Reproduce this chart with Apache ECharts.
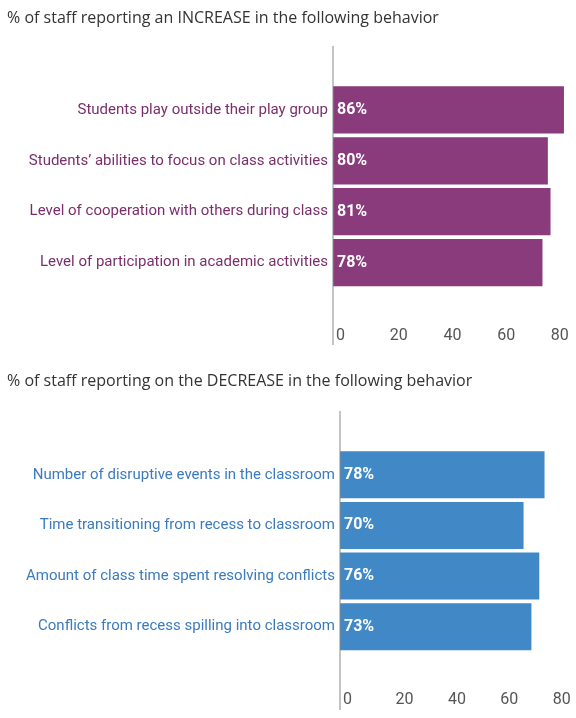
<!DOCTYPE html>
<html>
<head>
<meta charset="utf-8">
<script src="https://cdn.jsdelivr.net/npm/echarts@6/dist/echarts.min.js"></script>
<style>
  html, body { margin: 0; padding: 0; background: #fff; }
  #chart { width: 576px; height: 718px; }
</style>
</head>
<body>
<div id="chart"></div>
<script>
// data
var incTitle = '% of staff reporting an INCREASE in the following behavior';
var incCategories = [
    'Students play outside their play group',
    'Students\u2019 abilities to focus on class activities',
    'Level of cooperation with others during class',
    'Level of participation in academic activities'
];
var incValues = [86, 80, 81, 78];

var decTitle = '% of staff reporting on the DECREASE in the following behavior';
var decCategories = [
    'Number of disruptive events in the classroom',
    'Time transitioning from recess to classroom',
    'Amount of class time spent resolving conflicts',
    'Conflicts from recess spilling into classroom'
];
var decValues = [78, 70, 76, 73];

var purple = '#8a3b7c';
var purpleText = '#7a2e6c';
var blue = '#4189c6';
var blueText = '#3a7bbf';
var narrow = 'Roboto, sans-serif';

var chart = echarts.init(document.getElementById('chart'));

function valueAxis(idx) {
    return {
        type: 'value', gridIndex: idx, min: 0, max: 90, interval: 20,
        axisLine: {show: false}, axisTick: {show: false}, splitLine: {show: false},
        axisLabel: {
            margin: 40, align: 'left', padding: [0, 0, 0, 3],
            color: '#555', fontFamily: narrow, fontSize: 16,
            showMaxLabel: false,
            formatter: function (v) { return v % 20 === 0 ? v : ''; }
        }
    };
}

function catAxis(idx, cats, color) {
    return {
        type: 'category', gridIndex: idx, data: cats, inverse: true,
        axisLine: {show: false}, axisTick: {show: false},
        axisLabel: {margin: 5, color: color, fontFamily: narrow, fontSize: 15}
    };
}

function barSeries(idx, vals, color) {
    return {
        type: 'bar', xAxisIndex: idx, yAxisIndex: idx, data: vals,
        barCategoryGap: '7%',
        itemStyle: {color: color},
        label: {
            show: true, position: 'insideLeft', distance: 4,
            formatter: '{c}%', color: '#fff', fontWeight: 'bold',
            fontFamily: narrow, fontSize: 16
        },
        silent: true
    };
}

var option = {
    animation: false,
    title: [
        {text: incTitle, left: 2, top: 5,
         textStyle: {fontFamily: '"Open Sans", sans-serif', fontWeight: 'normal', fontSize: 16, color: '#333'}},
        {text: decTitle, left: 2, top: 368,
         textStyle: {fontFamily: '"Open Sans", sans-serif', fontWeight: 'normal', fontSize: 16, color: '#333'}}
    ],
    grid: [
        {left: 333, top: 84.5, width: 241.7, height: 203.5},
        {left: 340, top: 449.5, width: 237.6, height: 202.5}
    ],
    xAxis: [valueAxis(0), valueAxis(1)],
    yAxis: [catAxis(0, incCategories, purpleText), catAxis(1, decCategories, blueText)],
    series: [barSeries(0, incValues, purple), barSeries(1, decValues, blue)],
    graphic: [
        {type: 'line', shape: {x1: 333, y1: 46, x2: 333, y2: 345}, style: {stroke: '#888', lineWidth: 1}, z: 10},
        {type: 'line', shape: {x1: 340, y1: 411, x2: 340, y2: 710}, style: {stroke: '#888', lineWidth: 1}, z: 10}
    ]
};
chart.setOption(option);
</script>
</body>
</html>
